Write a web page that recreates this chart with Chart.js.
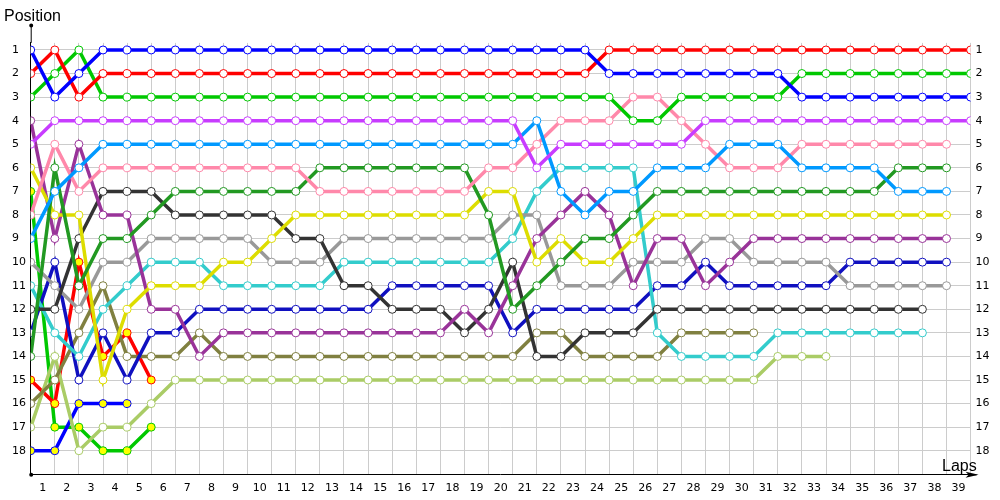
<!DOCTYPE html>
<html>
<head>
<meta charset="utf-8">
<script src="https://cdn.jsdelivr.net/npm/chart.js@4.4.0/dist/chart.umd.min.js"></script>
<style>
html,body{margin:0;padding:0;background:#fff;}
</style>
</head>
<body>
<canvas id="lapChart" width="1000" height="500"></canvas>
<script>
// laps 0..39 and positions 1..18
const laps = [0,1,2,3,4,5,6,7,8,9,10,11,12,13,14,15,16,17,18,19,20,21,22,23,24,25,26,27,28,29,30,31,32,33,34,35,36,37,38,39];
const positions = [1,2,3,4,5,6,7,8,9,10,11,12,13,14,15,16,17,18];

// position of each car on every lap (null = no longer running)
const blue = [1,3,2,1,1,1,1,1,1,1,1,1,1,1,1,1,1,1,1,1,1,1,1,1,2,2,2,2,2,2,2,2,3,3,3,3,3,3,3,3];
const red = [2,1,3,2,2,2,2,2,2,2,2,2,2,2,2,2,2,2,2,2,2,2,2,2,1,1,1,1,1,1,1,1,1,1,1,1,1,1,1,1];
const green = [3,2,1,3,3,3,3,3,3,3,3,3,3,3,3,3,3,3,3,3,3,3,3,3,3,4,4,3,3,3,3,3,2,2,2,2,2,2,2,2];
const violet = [5,4,4,4,4,4,4,4,4,4,4,4,4,4,4,4,4,4,4,4,4,6,5,5,5,5,5,5,4,4,4,4,4,4,4,4,4,4,4,4];
const skyBlue = [9,7,6,5,5,5,5,5,5,5,5,5,5,5,5,5,5,5,5,5,5,4,7,8,7,7,6,6,6,5,5,5,6,6,6,6,7,7,7,null];
const pink = [8,5,7,6,6,6,6,6,6,6,6,6,7,7,7,7,7,7,7,6,6,5,4,4,4,3,3,4,5,6,6,6,5,5,5,5,5,5,5,null];
const darkGreen = [14,6,11,9,9,8,7,7,7,7,7,7,6,6,6,6,6,6,6,8,12,11,10,9,9,8,7,7,7,7,7,7,7,7,7,7,6,6,6,null];
const yellow = [6,8,8,15,12,11,11,11,10,10,9,8,8,8,8,8,8,8,8,7,7,10,9,10,10,9,8,8,8,8,8,8,8,8,8,8,8,8,8,null];
const purple = [4,9,5,8,8,12,12,14,13,13,13,13,13,13,13,13,13,13,12,13,11,9,8,7,8,11,9,9,11,10,9,9,9,9,9,9,9,9,9,null];
const charcoal = [12,12,9,7,7,7,8,8,8,8,8,9,9,11,11,12,12,12,13,12,10,14,14,13,13,13,12,12,12,12,12,12,12,12,12,12,12,12,null,null];
const grey = [10,11,12,10,10,9,9,9,9,9,10,10,10,9,9,9,9,9,9,9,8,8,11,11,11,10,10,10,9,9,10,10,10,10,11,11,11,11,11,null];
const cyan = [11,13,14,12,11,10,10,10,11,11,11,11,11,10,10,10,10,10,10,10,9,7,6,6,6,6,13,14,14,14,14,13,13,13,13,13,13,13,null,null];
const navy = [13,10,15,13,15,13,13,12,12,12,12,12,12,12,12,11,11,11,11,11,13,12,12,12,12,12,11,11,10,11,11,11,11,11,10,10,10,10,10,null];
const olive = [16,15,13,11,14,14,14,13,14,14,14,14,14,14,14,14,14,14,14,14,14,13,13,14,14,14,14,13,13,13,13,null,null,null,null,null,null,null,null,null];
const lime = [17,14,18,17,17,16,15,15,15,15,15,15,15,15,15,15,15,15,15,15,15,15,15,15,15,15,15,15,15,15,15,14,14,14,null,null,null,null,null,null];
const red2 = [15,16,10,14,13,15,null,null,null,null,null,null,null,null,null,null,null,null,null,null,null,null,null,null,null,null,null,null,null,null,null,null,null,null,null,null,null,null,null,null];
const blue2 = [18,18,16,16,16,null,null,null,null,null,null,null,null,null,null,null,null,null,null,null,null,null,null,null,null,null,null,null,null,null,null,null,null,null,null,null,null,null,null,null];
const green2 = [7,17,17,18,18,17,null,null,null,null,null,null,null,null,null,null,null,null,null,null,null,null,null,null,null,null,null,null,null,null,null,null,null,null,null,null,null,null,null,null];

function car(label, data, color, fill){
    return {
        label: label,
        data: data,
        borderColor: color,
        backgroundColor: color,
        borderWidth: 3.5,
        pointRadius: 4,
        pointBorderWidth: 1,
        pointBorderColor: color,
        pointBackgroundColor: fill || "#ffffff",
        tension: 0,
        spanGaps: false
    };
}

const axisDecor = {
    id: "axisDecor",
    afterDraw(chart){
        const ctx = chart.ctx;
        const area = chart.chartArea;
        const yTop = chart.scales.y.getPixelForValue(0) - 1;
        ctx.save();
        ctx.strokeStyle = "#000";
        ctx.fillStyle = "#000";
        ctx.lineWidth = 1;
        ctx.beginPath();
        ctx.moveTo(area.left + 0.5, yTop);
        ctx.lineTo(area.left + 0.5, area.top);
        ctx.moveTo(area.right, area.bottom + 0.5);
        ctx.lineTo(area.right + 6, area.bottom + 0.5);
        ctx.stroke();
        ctx.beginPath();
        ctx.arc(area.left + 0.5, yTop, 2, 0, Math.PI * 2);
        ctx.arc(area.left + 0.5, area.bottom + 0.5, 2, 0, Math.PI * 2);
        ctx.fill();
        ctx.beginPath();
        ctx.moveTo(area.right + 8, area.bottom + 0.5);
        ctx.lineTo(area.right - 5, area.bottom - 2.5);
        ctx.lineTo(area.right - 2, area.bottom + 0.5);
        ctx.lineTo(area.right - 5, area.bottom + 3.5);
        ctx.closePath();
        ctx.fill();
        ctx.font = "16px 'Liberation Sans'";
        ctx.textBaseline = "alphabetic";
        ctx.fillText("Position", 4, 21);
        ctx.fillText("Laps", 942, 471);
        ctx.restore();
    }
};

const tickFont = { family: "'DejaVu Sans'", size: 11 };

new Chart(
    document.getElementById("lapChart"),
    {
        type: "line",
        data: {
            labels: laps,
            datasets: [
                car("Blue", blue, "#0000ff"),
                car("Red", red, "#ff0000"),
                car("Green", green, "#00c800"),
                car("Violet", violet, "#c83cff"),
                car("Sky blue", skyBlue, "#0099ff"),
                car("Pink", pink, "#ff88aa"),
                car("Dark green", darkGreen, "#229922"),
                car("Yellow", yellow, "#dddd00"),
                car("Purple", purple, "#993399"),
                car("Charcoal", charcoal, "#333333"),
                car("Grey", grey, "#999999"),
                car("Cyan", cyan, "#33cccc"),
                car("Navy", navy, "#1010c0"),
                car("Olive", olive, "#808040"),
                car("Lime", lime, "#aacc66"),
                car("Red 2", red2, "#ff0000", "#ffff00"),
                car("Blue 2", blue2, "#0000ff", "#ffff00"),
                car("Green 2", green2, "#00c800", "#ffff00")
            ]
        },
        options: {
            responsive: false,
            animation: false,
            layout: { padding: { top: 42.9, left: 12 } },
            plugins: {
                legend: { display: false },
                tooltip: { enabled: false }
            },
            scales: {
                x: {
                    type: "linear",
                    min: 0,
                    max: 39,
                    afterBuildTicks: s => { s.ticks = laps.map(v => ({ value: v })); },
                    afterFit: s => { s.height = 25.7; },
                    grid: { color: "#cccccc", drawTicks: false },
                    border: { color: "#000000" },
                    ticks: {
                        autoSkip: false,
                        maxRotation: 0,
                        labelOffset: -12.05,
                        padding: 7,
                        color: "#000",
                        font: tickFont,
                        callback: v => v === 0 ? "" : String(v)
                    }
                },
                y: {
                    type: "linear",
                    position: "left",
                    reverse: true,
                    min: 0.7,
                    max: 19,
                    afterBuildTicks: s => { s.ticks = positions.map(v => ({ value: v })); },
                    afterFit: s => { s.width = 18.7; },
                    grid: { color: "#cccccc", drawTicks: false },
                    border: { color: "#000000" },
                    ticks: { crossAlign: "far", color: "#000", font: tickFont }
                },
                y2: {
                    type: "linear",
                    position: "right",
                    reverse: true,
                    min: 0.7,
                    max: 19,
                    afterBuildTicks: s => { s.ticks = positions.map(v => ({ value: v })); },
                    afterFit: s => { s.width = 29.4; },
                    grid: { display: false, drawTicks: false },
                    border: { display: false },
                    ticks: { padding: 5, color: "#000", font: tickFont }
                }
            }
        },
        plugins: [axisDecor]
    }
);
</script>
</body>
</html>
